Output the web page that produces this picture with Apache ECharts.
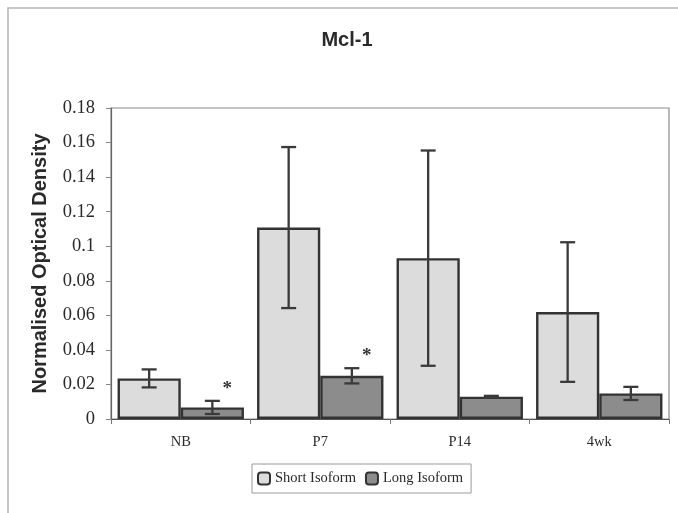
<!DOCTYPE html>
<html>
<head>
<meta charset="utf-8">
<style>
  html, body { margin: 0; padding: 0; background: #ffffff; }
  #chart { width: 678px; height: 513px; }
</style>
<script src="https://cdn.jsdelivr.net/npm/echarts@6/dist/echarts.min.js"></script>
</head>
<body>
<div id="chart"></div>
<script>
// Mcl-1 optical density by age, short vs long isoform (mean ± error)
const categories = ['NB', 'P7', 'P14', '4wk'];
const seriesNames = ['Short Isoform', 'Long Isoform'];
const shortMean = [0.0235, 0.1108, 0.0931, 0.0619];
const shortErr  = [0.0052, 0.0466, 0.0623, 0.0404];
const longMean  = [0.0067, 0.0250, 0.0129, 0.0148];
const longErr   = [0.0038, 0.0044, 0.0005, 0.0038];
const longMarks = ['*', '*', '', ''];
const shortMarks = ['', '', '', ''];
const yMin = 0, yMax = 0.18, yStep = 0.02;

const CAT_GAP = 0.094;
const serif = '"Liberation Serif", "Times New Roman", serif';
const sans = '"Liberation Sans", Arial, sans-serif';

function errorSeries(mean, err, marks, side) {
  return {
    type: 'custom',
    z: 5,
    silent: true,
    data: mean.map((m, i) => [i, m, err[i]]),
    renderItem: function (params, api) {
      const idx = api.value(0);
      const m = api.value(1);
      const e = api.value(2);
      const mark = marks[params.dataIndex];
      const band = api.size([1, 0])[0];
      const barW = band * (1 - CAT_GAP) / 2;
      const base = api.coord([idx, m]);
      const cx = base[0] + side * barW / 2;
      const top = api.coord([idx, m + e])[1];
      const bot = api.coord([idx, m - e])[1];
      const cap = 7.5;
      const style = { stroke: '#3a3a3a', lineWidth: 2.3 };
      const children = [
        { type: 'line', shape: { x1: cx, y1: top, x2: cx, y2: bot }, style },
        { type: 'line', shape: { x1: cx - cap, y1: top, x2: cx + cap, y2: top }, style },
        { type: 'line', shape: { x1: cx - cap, y1: bot, x2: cx + cap, y2: bot }, style }
      ];
      if (mark) {
        children.push({
          type: 'text',
          style: {
            text: mark, x: cx + 15, y: top - 12,
            fill: '#333', font: 'bold 19px ' + serif,
            align: 'center', verticalAlign: 'middle'
          }
        });
      }
      return { type: 'group', children };
    }
  };
}

const chart = echarts.init(document.getElementById('chart'), null, { renderer: 'canvas' });
chart.setOption({
  backgroundColor: '#ffffff',
  animation: false,
  title: {
    text: 'Mcl-1',
    left: 342, top: 25, textAlign: 'center',
    textStyle: { fontFamily: sans, fontWeight: 'bold', fontSize: 20, color: '#2a2a2a' }
  },
  graphic: [{
    type: 'rect', silent: true, z: -10,
    shape: { x: 8, y: 8, width: 720, height: 600 },
    style: { fill: 'none', stroke: '#b4b4b4', lineWidth: 1.5 }
  }],
  legend: {
    left: 252, top: 464,
    padding: [7, 8, 7, 5],
    itemWidth: 12, itemHeight: 12, itemGap: 9,
    borderColor: '#9a9a9a', borderWidth: 1,
    textStyle: { fontFamily: serif, fontSize: 14.5, color: '#2a2a2a' },
    data: seriesNames
  },
  grid: {
    left: 111, right: 9, top: 108, bottom: 94,
    show: true, borderColor: '#8a8a8a', borderWidth: 1.2, backgroundColor: 'transparent'
  },
  xAxis: {
    type: 'category',
    data: categories,
    axisLine: { lineStyle: { color: '#555', width: 1.2 } },
    axisTick: { show: true, length: 5, lineStyle: { color: '#777' } },
    axisLabel: { fontFamily: serif, fontSize: 14.5, color: '#2a2a2a', margin: 16 }
  },
  yAxis: {
    type: 'value',
    min: yMin, max: yMax, interval: yStep,
    name: 'Normalised Optical Density',
    nameLocation: 'middle', nameGap: 61,
    nameTextStyle: { fontFamily: sans, fontWeight: 'bold', fontSize: 20, color: '#2a2a2a' },
    axisLine: { show: true, lineStyle: { color: '#666', width: 1.2 } },
    axisTick: { show: true, length: 5, lineStyle: { color: '#888' } },
    splitLine: { show: false },
    axisLabel: {
      fontFamily: serif, fontSize: 18.5, color: '#2a2a2a', margin: 16,
      formatter: v => String(+v.toFixed(2))
    }
  },
  series: [
    {
      name: seriesNames[0], type: 'bar', data: shortMean,
      barGap: '0%', barCategoryGap: (CAT_GAP * 100) + '%',
      itemStyle: { color: '#dcdcdc', borderColor: '#333', borderWidth: 2.4 }
    },
    {
      name: seriesNames[1], type: 'bar', data: longMean,
      barGap: '0%', barCategoryGap: (CAT_GAP * 100) + '%',
      itemStyle: { color: '#8c8c8c', borderColor: '#333', borderWidth: 2.4 }
    },
    errorSeries(shortMean, shortErr, shortMarks, -1),
    errorSeries(longMean, longErr, longMarks, 1)
  ]
});
</script>
</body>
</html>
